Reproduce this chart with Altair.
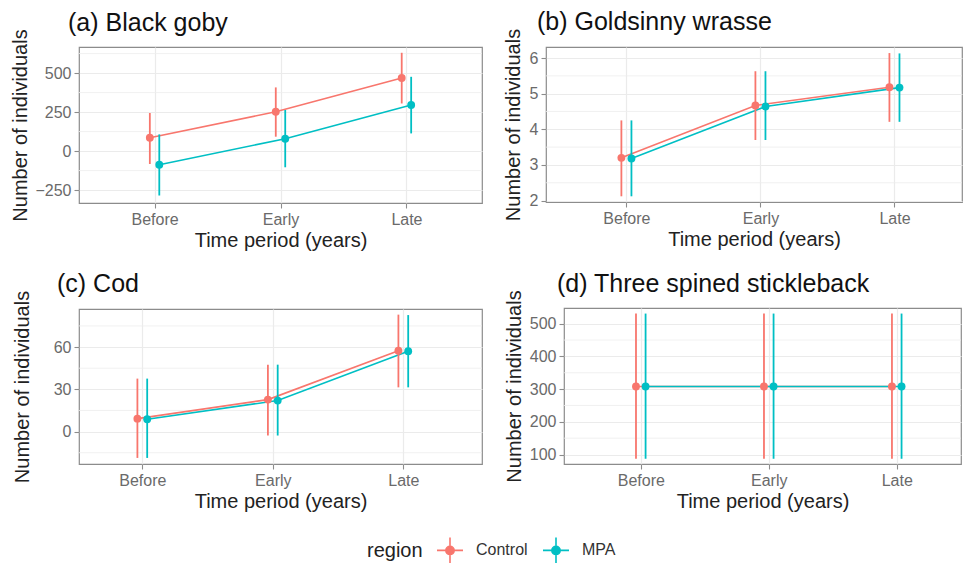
import json
import altair as alt
import pandas as pd

periods = ["Before", "Early", "Late"]
regions = ["Control", "MPA"]
colors = ["#F8766D", "#00BFC4"]

# (a) Black goby
goby_ctrl_mean = [85, 252, 468]
goby_ctrl_lo = [-83, 92, 305]
goby_ctrl_hi = [244, 408, 630]
goby_mpa_mean = [-88, 79, 295]
goby_mpa_lo = [-285, -104, 113]
goby_mpa_hi = [107, 263, 476]

# (b) Goldsinny wrasse
wrasse_ctrl_mean = [3.20, 4.67, 5.18]
wrasse_ctrl_lo = [2.12, 3.70, 4.21]
wrasse_ctrl_hi = [4.25, 5.63, 6.14]
wrasse_mpa_mean = [3.18, 4.64, 5.17]
wrasse_mpa_lo = [2.12, 3.70, 4.21]
wrasse_mpa_hi = [4.25, 5.63, 6.13]

# (c) Cod
cod_ctrl_mean = [9.2, 22.7, 57.4]
cod_ctrl_lo = [-18.7, -2.8, 31.4]
cod_ctrl_hi = [37.6, 47.5, 83.0]
cod_mpa_mean = [8.8, 22.0, 57.0]
cod_mpa_lo = [-18.7, -2.8, 31.4]
cod_mpa_hi = [37.6, 47.5, 82.7]

# (d) Three spined stickleback
stick_ctrl_mean = [308, 308, 308]
stick_ctrl_lo = [87, 87, 87]
stick_ctrl_hi = [531, 531, 531]
stick_mpa_mean = [308, 308, 308]
stick_mpa_lo = [87, 87, 87]
stick_mpa_hi = [531, 531, 531]

# axis breaks
goby_major = [-250, 0, 250, 500]
goby_minor = [-125, 125, 375, 625]
wrasse_major = [2, 3, 4, 5, 6]
wrasse_minor = [2.5, 3.5, 4.5, 5.5]
cod_major = [0, 30, 60]
cod_minor = [-15, 15, 45, 75]
stick_major = [100, 200, 300, 400, 500]
stick_minor = [150, 250, 350, 450]


def make_df(cm, cl, ch, mm, ml, mh):
    rows = []
    for reg, m, lo, hi in [("Control", cm, cl, ch), ("MPA", mm, ml, mh)]:
        for i, p in enumerate(periods):
            rows.append({"period": p, "pidx": i + 1, "region": reg,
                         "mean": m[i], "lo": lo[i], "hi": hi[i]})
    return pd.DataFrame(rows)


label_expr = json.dumps(periods) + "[datum.value - 1]"
legend_symbol = "M-1,0H1M0,-1V1M0.32,0A0.32,0.32,0,1,1,-0.32,0A0.32,0.32,0,1,1,0.32,0Z"

LEGEND = alt.Legend(
    orient="none", legendX=288, legendY=489, direction="horizontal",
    titleOrient="left", symbolType=legend_symbol, symbolSize=676,
    symbolStrokeWidth=1.6,
)


def panel(df, title, title_dx, ydomain, ymajor, yminor, width, height, xdom, ytp):
    xs = alt.Scale(domain=xdom, nice=False, zero=False)
    ys = alt.Scale(domain=ydomain, nice=False, zero=False)
    xax = alt.Axis(values=[1, 2, 3], labelExpr=label_expr, title="Time period (years)",
                   grid=True)
    yax = alt.Axis(values=ymajor, title="Number of individuals", grid=True,
                   titlePadding=ytp)
    cs = alt.Scale(domain=regions, range=colors)
    col = alt.Color("region:N", scale=cs, title="region", legend=LEGEND)
    base = alt.Chart(df).transform_calculate(
        xpos="datum.pidx + (datum.region == 'Control' ? -0.0375 : 0.0375)"
    )
    minor = alt.Chart(pd.DataFrame({"v": yminor})).mark_rule(
        color="#EEEEEE", strokeWidth=0.8
    ).encode(y=alt.Y("v:Q", scale=ys, axis=yax))
    line = base.mark_line(strokeWidth=1.6).encode(
        x=alt.X("xpos:Q", scale=xs, axis=xax),
        y=alt.Y("mean:Q", scale=ys, axis=yax),
        color=col,
    )
    rule = base.mark_rule(strokeWidth=1.8).encode(
        x=alt.X("xpos:Q", scale=xs, axis=xax),
        y=alt.Y("lo:Q", scale=ys, axis=yax),
        y2="hi:Q",
        color=col,
    )
    pts = base.mark_point(filled=True, opacity=1, size=62).encode(
        x=alt.X("xpos:Q", scale=xs, axis=xax),
        y=alt.Y("mean:Q", scale=ys, axis=yax),
        color=col,
    )
    return alt.layer(minor, line, rule, pts).properties(
        width=width, height=height,
        title=alt.TitleParams(title, dx=title_dx, frame="group"),
    )


pa = panel(make_df(goby_ctrl_mean, goby_ctrl_lo, goby_ctrl_hi,
                   goby_mpa_mean, goby_mpa_lo, goby_mpa_hi),
           "(a) Black goby", -11, [-333, 667], goby_major, goby_minor,
           403, 156, [0.4, 3.6], 4)
pb = panel(make_df(wrasse_ctrl_mean, wrasse_ctrl_lo, wrasse_ctrl_hi,
                   wrasse_mpa_mean, wrasse_mpa_lo, wrasse_mpa_hi),
           "(b) Goldsinny wrasse", -9, [1.96, 6.31], wrasse_major, wrasse_minor,
           416, 155, [0.4, 3.504], 5.5)
pc = panel(make_df(cod_ctrl_mean, cod_ctrl_lo, cod_ctrl_hi,
                   cod_mpa_mean, cod_mpa_lo, cod_mpa_hi),
           "(c) Cod", -22, [-23, 87], cod_major, cod_minor,
           403, 155, [0.515, 3.603], 21)
pd_ = panel(make_df(stick_ctrl_mean, stick_ctrl_lo, stick_ctrl_hi,
                    stick_mpa_mean, stick_mpa_lo, stick_mpa_hi),
            "(d) Three spined stickleback", -7, [71, 548], stick_major, stick_minor,
            397, 156, [0.4, 3.502], 5)

FONT = "Liberation Sans"

chart = alt.concat(
    pa, pb, pc, pd_,
    columns=2,
    spacing={"row": 20, "column": 20},
    align="none",
).properties(
    padding={"left": 10, "top": 9, "right": 0, "bottom": 0},
    background="white",
).configure_view(
    stroke="#8c8c8c", strokeWidth=1.2
).configure_axis(
    labelFont=FONT, labelFontSize=16, labelColor="#6a6a6a",
    titleFont=FONT, titleFontSize=20, titleFontWeight="normal", titleColor="#222222",
    tickColor="#8c8c8c", tickSize=5, tickWidth=1.1, domain=False,
    gridColor="#EBEBEB", gridWidth=1.2, labelPadding=3, titlePadding=3,
).configure_title(
    font=FONT, fontSize=25, fontWeight="normal", color="#111111", anchor="start",
    offset=-7,
).configure_legend(
    titleFont=FONT, titleFontSize=20, titleFontWeight="normal", titleColor="#222222",
    labelFont=FONT, labelFontSize=16, labelColor="#333333", columnPadding=11,
    titlePadding=13, labelOffset=12,
)

chart.save("out.html", embed_options={"renderer": "svg", "actions": False})
